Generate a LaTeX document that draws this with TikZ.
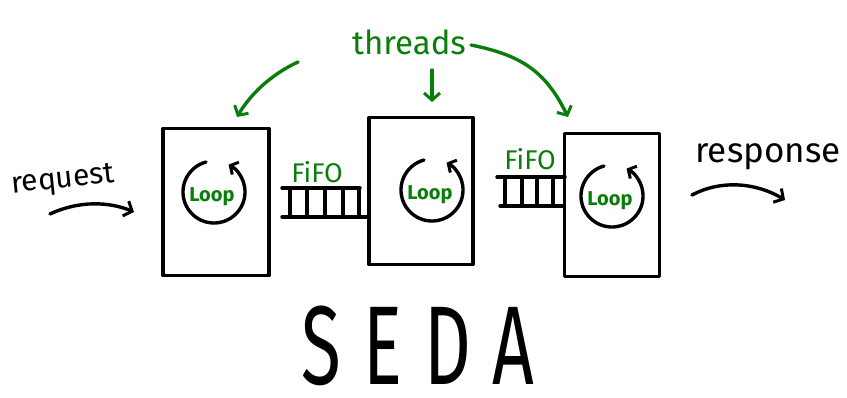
\documentclass[tikz,border=0pt]{standalone}
\usepackage{fontspec}
\setmainfont{Fira Sans}
\usetikzlibrary{arrows.meta}
\definecolor{pen}{RGB}{10,125,10}
\begin{document}
\begin{tikzpicture}[x=1pt,y=-1pt,
  ink/.style={line width=3.4pt,line cap=round,line join=round},
  stage/.style={draw,ink,minimum width=#1,inner sep=0pt},
  gink/.style={ink,draw=pen},
  barb/.style={-{Straight Barb[length=7pt,width=16pt,line width=3pt]}},
  lbl/.style={inner sep=0pt},
  glbl/.style={text=pen,inner sep=0pt},
  looptxt/.style={glbl,font=\bfseries\fontsize{20}{21}\selectfont},
  fifotxt/.style={glbl,font=\fontsize{27}{28}\selectfont}]
\useasboundingbox (0,0) rectangle (847,398);
% stages
\node[stage=106pt,minimum height=147pt] (s1) at (216,202) {};
\node[stage=104pt,minimum height=147pt] (s2) at (421,191) {};
\node[stage=95pt,minimum height=143pt] (s3) at (612,205) {};
% loops
\foreach \i/\x/\y in {1/214/192,2/432/190,3/612/196}{
  \draw[ink,-{Straight Barb[length=6pt,width=14pt,line width=3pt]}]
    ([shift={(255:31)}]\x,\y) arc[start angle=255,end angle=-62,radius=31];
  \node[looptxt] (l\i) at (\x-2,\y+5) {Loop};
}
% FIFO 1
\draw[ink] (282,188) -- (360,188);
\draw[ink] (282,217) -- (s2.west |- 0,217);
\foreach \x in {290,307,325,343,359}{\draw[ink] (\x,188) -- (\x,217);}
\node[fifotxt] (f1) at (317,172) {FiFO};
% FIFO 2
\draw[ink] (497,177) -- (565,177);
\draw[ink] (500,206) -- (s3.west |- 0,206);
\foreach \x in {505,522,537,553}{\draw[ink] (\x,177) -- (\x,206);}
\node[fifotxt] (f2) at (530,159) {FiFO};
% threads
\node[glbl,font=\fontsize{33}{35}\selectfont] (th) at (409,42) {threads};
\coordinate (a1) at (298,62);
\coordinate (b1) at (237,117);
\draw[gink,barb] (a1) .. controls (270,75) and (250,95) .. (b1);
\coordinate (a2) at (432,70);
\coordinate (b2) at (432,102);
\draw[gink,barb] (a2) -- (b2);
\coordinate (a3) at (471,45);
\coordinate (b3) at (568,117);
\draw[gink,barb] (a3) .. controls (520,55) and (545,70) .. (b3);
% request / response
\node[lbl,rotate=6,font=\fontsize{30}{32}\selectfont] (req) at (63,181) {request};
\coordinate (r1) at (50,214);
\coordinate (r2) at (134,212);
\draw[ink,barb] (r1) .. controls (80,200) and (110,202) .. (r2);
\node[lbl,font=\fontsize{35}{37}\selectfont] (resp) at (768,157) {response};
\coordinate (p1) at (692,195);
\coordinate (p2) at (785,200);
\draw[ink,barb] (p1) .. controls (720,180) and (755,182) .. (p2);
% title
\node[inner sep=0pt,xscale=0.65,font=\fontsize{112}{112}\selectfont\addfontfeature{LetterSpace=30}] (seda) at (418,346) {SEDA};
\end{tikzpicture}
\end{document}
